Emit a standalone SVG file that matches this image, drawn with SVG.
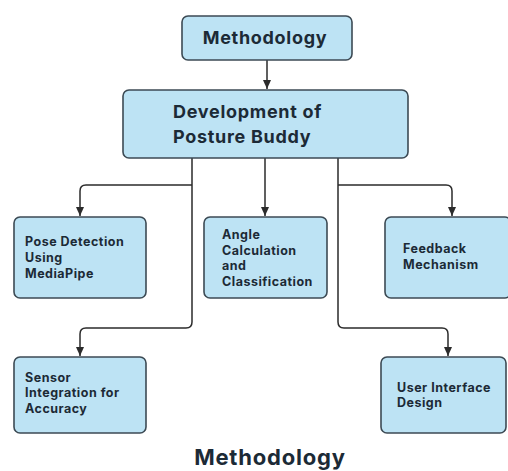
<svg xmlns="http://www.w3.org/2000/svg" width="508" height="471" viewBox="0 0 508 471">
<defs>
<style>
.box{fill:#bde3f4;stroke:#3c4a54;stroke-width:1.6}
.t{font-family:Inter,"Liberation Sans",sans-serif;fill:#1c2a36}
.big{font-size:18px;font-weight:700;letter-spacing:0.7px}
.sm{font-size:12.5px;font-weight:700;letter-spacing:0.5px}
.c{fill:none;stroke:#2b2b2b;stroke-width:1.5}
</style>
<marker id="ah" markerUnits="userSpaceOnUse" markerWidth="9" markerHeight="8" refX="9" refY="4" orient="auto">
<path d="M0,0 L9,4 L0,8 Z" fill="#2b2b2b"/>
</marker>
</defs>
<rect width="508" height="471" fill="#ffffff"/>
<g id="connectors">
<path class="c" d="M267,60 V89" marker-end="url(#ah)"/>
<path class="c" d="M265,158 V216" marker-end="url(#ah)"/>
<path class="c" d="M192,158 V322 Q192,328 186,328 H86 Q80,328 80,334 V356" marker-end="url(#ah)"/>
<path class="c" d="M192,185 H86 Q80,185 80,191 V216" marker-end="url(#ah)"/>
<path class="c" d="M338,158 V322 Q338,328 344,328 H442 Q448,328 448,334 V356" marker-end="url(#ah)"/>
<path class="c" d="M338,185 H446 Q452,185 452,191 V216" marker-end="url(#ah)"/>
</g>
<g id="n-methodology">
<rect class="box" x="182" y="16" width="170" height="44" rx="6"/>
<text class="t big" x="265" y="44" text-anchor="middle">Methodology</text>
</g>
<g id="n-development">
<rect class="box" x="123" y="90" width="285" height="68" rx="6"/>
<text class="t big" x="173" y="118">Development of</text>
<text class="t big" x="173" y="143">Posture Buddy</text>
</g>
<g id="n-pose">
<rect class="box" x="14" y="217" width="132" height="81" rx="6"/>
<text class="t sm" x="25" y="246">Pose Detection</text>
<text class="t sm" x="25" y="262">Using</text>
<text class="t sm" x="25" y="278">MediaPipe</text>
</g>
<g id="n-angle">
<rect class="box" x="204" y="217" width="123" height="81" rx="6"/>
<text class="t sm" x="222" y="239">Angle</text>
<text class="t sm" x="222" y="255">Calculation</text>
<text class="t sm" x="222" y="270">and</text>
<text class="t sm" x="222" y="286">Classification</text>
</g>
<g id="n-feedback">
<rect class="box" x="385" y="217" width="126" height="81" rx="6"/>
<text class="t sm" x="403" y="253">Feedback</text>
<text class="t sm" x="403" y="269">Mechanism</text>
</g>
<g id="n-sensor">
<rect class="box" x="14" y="357" width="132" height="76" rx="6"/>
<text class="t sm" x="25" y="382">Sensor</text>
<text class="t sm" x="25" y="397">Integration for</text>
<text class="t sm" x="25" y="413">Accuracy</text>
</g>
<g id="n-ui">
<rect class="box" x="381" y="357" width="125" height="76" rx="6"/>
<text class="t sm" x="397" y="392">User Interface</text>
<text class="t sm" x="397" y="407">Design</text>
</g>
<text class="t" x="270" y="465" text-anchor="middle" font-size="22" font-weight="700" letter-spacing="0.8" fill="#111">Methodology</text>
</svg>
